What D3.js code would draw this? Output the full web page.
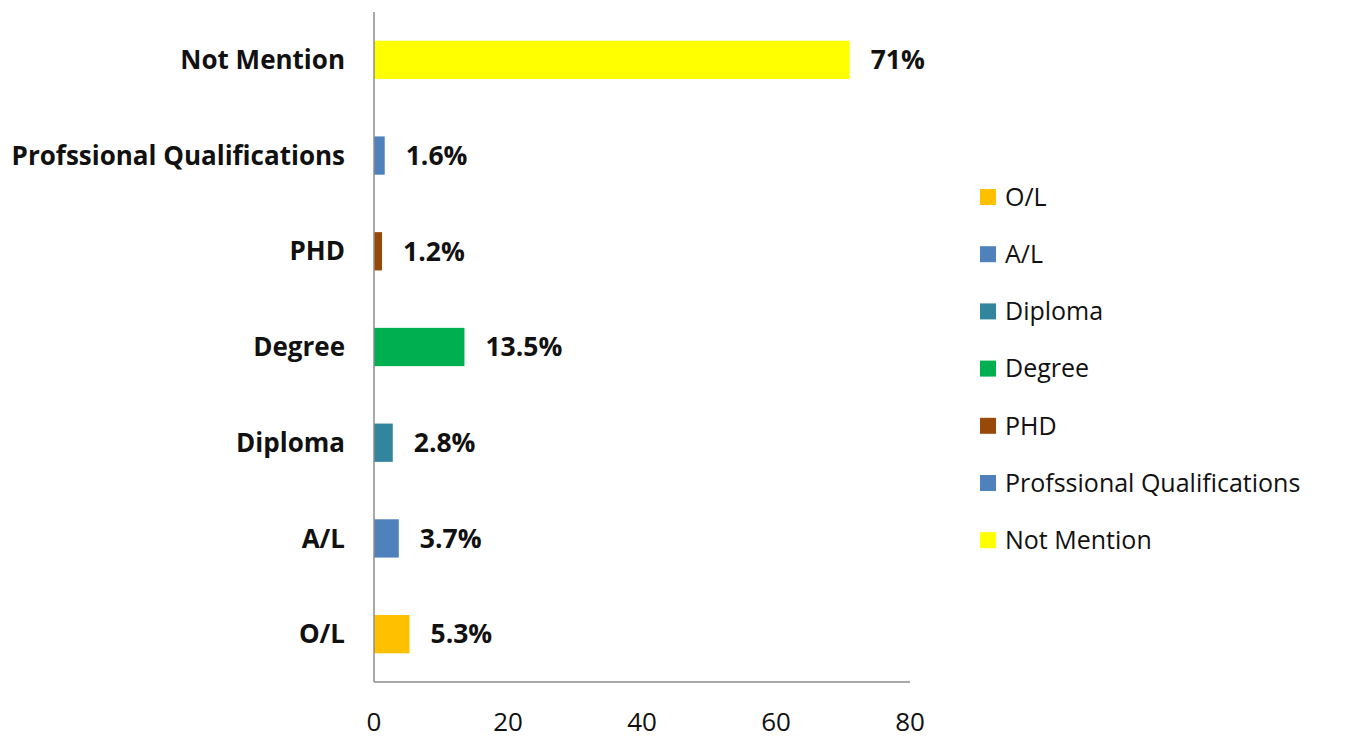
<!DOCTYPE html>
<html><head><meta charset="utf-8">
<script src="https://cdn.jsdelivr.net/npm/d3@7"></script>
<style>body{margin:0;background:#fff}svg{display:block}</style>
</head><body>
<script>
const categories = ["O/L","A/L","Diploma","Degree","PHD","Profssional Qualifications","Not Mention"];
const values = [5.3,3.7,2.8,13.5,1.2,1.6,71];
const valueLabels = ["5.3%","3.7%","2.8%","13.5%","1.2%","1.6%","71%"];
const colors = ["#FFC000","#4F81BD","#31859C","#00B050","#984807","#4F81BD","#FFFF00"];
const xTicks = [0,20,40,60,80];

const W=1348,H=740;
const svg=d3.select("body").append("svg").attr("width",W).attr("height",H);
const font="'Open Sans', Lato, sans-serif";
const x=d3.scaleLinear().domain([0,80]).range([374,910]);
const y=d3.scaleBand().domain(categories.slice().reverse()).range([12,682]).paddingInner(0.6).paddingOuter(0.3);

svg.selectAll("rect.bar").data(categories).join("rect").attr("class","bar")
  .attr("x",x(0)).attr("y",d=>y(d)).attr("height",y.bandwidth())
  .attr("width",(d,i)=>x(values[i])-x(0)).attr("fill",(d,i)=>colors[i]);

svg.selectAll("text.cat").data(categories).join("text").attr("class","cat")
  .attr("x",345).attr("y",d=>y(d)+y.bandwidth()/2).attr("dy","0.35em")
  .attr("text-anchor","end").attr("font-family",font).attr("font-weight","bold")
  .attr("font-size",26).attr("fill","#111").text(d=>d);

svg.selectAll("text.val").data(categories).join("text").attr("class","val")
  .attr("x",(d,i)=>x(values[i])+21).attr("y",d=>y(d)+y.bandwidth()/2).attr("dy","0.35em")
  .attr("font-family",font).attr("font-weight","bold").attr("font-size",26.5).attr("fill","#111")
  .text((d,i)=>valueLabels[i]);

// axes
svg.append("line").attr("x1",x(0)).attr("x2",x(0)).attr("y1",12).attr("y2",682).attr("stroke","#8c8c8c").attr("stroke-width",1.5);
svg.append("line").attr("x1",x(0)).attr("x2",x(80)).attr("y1",682).attr("y2",682).attr("stroke","#8c8c8c").attr("stroke-width",1.5);
svg.selectAll("text.tick").data(xTicks).join("text").attr("class","tick")
  .attr("x",d=>x(d)).attr("y",722).attr("dy","0.35em").attr("text-anchor","middle")
  .attr("font-family",font).attr("font-size",26).attr("fill","#111").text(d=>d);

// legend
const lg=svg.append("g");
categories.forEach((c,i)=>{
  const ly=197+i*57.2;
  lg.append("rect").attr("x",980).attr("y",ly-8).attr("width",16).attr("height",16).attr("fill",colors[i]);
  lg.append("text").attr("x",1005).attr("y",ly).attr("dy","0.35em").attr("font-family",font)
    .attr("font-size",25).attr("fill","#111").text(c);
});
</script>
</body></html>
